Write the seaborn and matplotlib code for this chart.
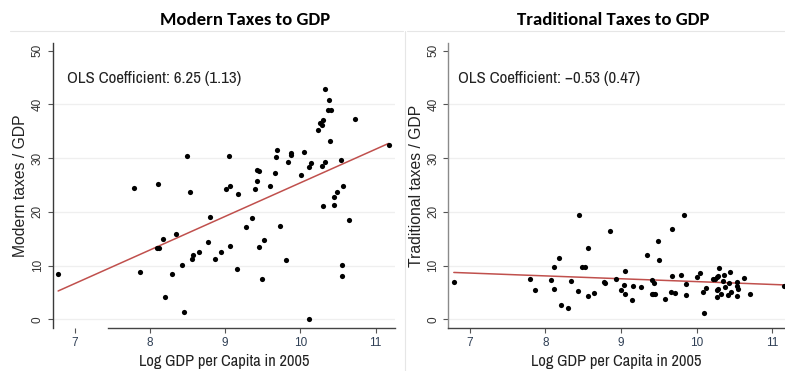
import numpy as np
import pandas as pd
import matplotlib
matplotlib.use("Agg")
import matplotlib.pyplot as plt
from matplotlib.lines import Line2D
import seaborn as sns

# Log GDP per capita (2005) and modern tax revenue as % of GDP
modern_x = [6.78, 7.79, 7.87, 8.11, 8.09, 8.12, 8.17, 8.20, 8.29, 8.35, 8.43, 8.45,
            8.49, 8.53, 8.56, 8.57, 8.65, 8.77, 8.80, 8.86, 8.94, 9.01, 9.05, 9.06,
            9.06, 9.16, 9.17, 9.27, 9.35, 9.40, 9.42, 9.42, 9.45, 9.45, 9.49, 9.52,
            9.60, 9.66, 9.68, 9.69, 9.73, 9.81, 9.84, 9.87, 9.88, 10.01, 10.05, 10.11,
            10.11, 10.14, 10.23, 10.26, 10.28, 10.30, 10.28, 10.30, 10.32, 10.33, 10.36,
            10.38, 10.39, 10.41, 10.44, 10.45, 10.48, 10.54, 10.55, 10.55, 10.57, 10.64,
            10.73, 11.17]
modern_y = [8.4, 24.5, 8.9, 25.2, 13.2, 13.2, 14.9, 4.1, 8.4, 15.8, 10.2, 1.4,
            30.4, 23.6, 11.2, 12.0, 12.5, 14.4, 19.0, 11.2, 12.6, 24.3, 30.3, 24.9,
            13.6, 9.4, 23.4, 17.1, 18.9, 24.3, 25.7, 27.7, 27.6, 13.5, 7.6, 14.8,
            24.8, 27.2, 30.2, 31.5, 17.4, 11.1, 29.3, 30.6, 31.0, 26.9, 31.1, 28.4,
            0.1, 29.0, 35.2, 36.5, 36.1, 37.0, 28.5, 21.0, 29.2, 42.8, 38.9,
            40.8, 33.1, 38.9, 21.2, 22.8, 23.6, 29.6, 10.2, 8.1, 24.9, 18.5,
            37.2, 32.5]

# Log GDP per capita (2005) and traditional tax revenue as % of GDP
trad_x = [6.79, 7.80, 7.87, 8.08, 8.11, 8.12, 8.18, 8.21, 8.30, 8.34, 8.43, 8.45,
          8.49, 8.53, 8.56, 8.57, 8.65, 8.77, 8.79, 8.86, 8.94, 9.00, 9.05, 9.04,
          9.06, 9.15, 9.16, 9.27, 9.35, 9.41, 9.41, 9.44, 9.43, 9.45, 9.49, 9.51,
          9.58, 9.66, 9.67, 9.68, 9.72, 9.80, 9.83, 9.86, 9.86, 10.00, 10.04, 10.09,
          10.10, 10.13, 10.22, 10.25, 10.27, 10.27, 10.27, 10.29, 10.29, 10.30, 10.32,
          10.35, 10.36, 10.38, 10.41, 10.43, 10.44, 10.46, 10.53, 10.54, 10.54, 10.55,
          10.63, 10.71, 11.16]
trad_y = [7.0, 7.6, 5.4, 7.3, 9.7, 5.6, 11.4, 2.7, 2.2, 7.1, 5.2, 19.5,
          9.8, 9.8, 4.3, 13.2, 5.0, 6.9, 6.8, 16.4, 7.6, 5.4, 9.0, 6.4,
          4.7, 3.6, 6.2, 6.1, 12.0, 7.4, 4.8, 6.8, 4.7, 4.7, 14.5, 11.0,
          3.8, 5.1, 16.9, 8.0, 4.9, 8.3, 19.4, 6.6, 4.5, 7.8, 8.6, 5.1,
          1.2, 5.8, 7.5, 7.6, 7.9, 5.5, 4.2, 8.1, 5.6, 9.6, 4.7,
          7.1, 8.2, 6.1, 4.5, 6.8, 8.9, 5.1, 7.0, 4.3, 6.2, 5.7,
          7.7, 4.8, 6.3]

# OLS slope estimates and standard errors
modern_coef, modern_se = 6.25, 1.13
trad_coef, trad_se = -0.53, 0.47

titles = ["Modern Taxes to GDP", "Traditional Taxes to GDP"]
ylabels = ["Modern taxes / GDP", "Traditional taxes / GDP"]
xlabel = "Log GDP per Capita in 2005"
xticks = [7, 8, 9, 10, 11]
yticks = [0, 10, 20, 30, 40, 50]

sns.set_theme(style="white")
plt.rcParams["font.family"] = ["Liberation Sans", "DejaVu Sans"]
NARROW = ["Archivo Narrow", "Liberation Sans", "DejaVu Sans"]
TITLE = ["Carlito", "Lato", "DejaVu Sans"]

fig = plt.figure(figsize=(7.85, 3.71), dpi=100)
W, H = 785, 371


def px_axes(x0, y0, x1, y1):
    return fig.add_axes([x0 / W, 1 - y1 / H, (x1 - x0) / W, (y1 - y0) / H])


panels = [
    dict(ax=px_axes(52.7, 43, 395, 328), x=modern_x, y=modern_y, coef=modern_coef,
         se=modern_se, xlim=(6.708, 11.256), spine_col="#3a3a3a", title_x=245,
         bottom_from=7.44),
    dict(ax=px_axes(448.3, 43, 785, 328), x=trad_x, y=trad_y, coef=trad_coef,
         se=trad_se, xlim=(6.717, 11.17), spine_col="#8a8a8a", title_x=613,
         bottom_from=None),
]

red = "#c0504d"
for i, p in enumerate(panels):
    ax = p["ax"]
    df = pd.DataFrame({"gdp": p["x"], "tax": p["y"]})

    # fitted OLS line with the reported slope, through the sample means
    xs = np.array([df.gdp.min(), df.gdp.max()])
    fit = pd.DataFrame({"gdp": xs,
                        "tax": df.tax.mean() + p["coef"] * (xs - df.gdp.mean())})
    sns.lineplot(data=fit, x="gdp", y="tax", ax=ax, color=red, lw=1.1, zorder=2)
    sns.scatterplot(data=df, x="gdp", y="tax", ax=ax, color="black", s=14,
                    linewidth=0, zorder=3)

    ax.set_xlim(*p["xlim"])
    ax.set_ylim(-1.6, 51.4)
    ax.set_xticks(xticks)
    ax.set_yticks(yticks)
    ax.set_xticklabels([str(t) for t in xticks], fontsize=8.5, color="#2f3f55")
    ax.set_yticklabels([str(t) for t in yticks], fontsize=8.5, color="#333333",
                       rotation=90, va="center")
    ax.tick_params(axis="both", length=3.5, width=0.8, color="#555555", pad=3,
                   left=True, bottom=True)

    ax.grid(axis="y", color="#efefef", lw=0.9)
    ax.get_ygridlines()[-1].set_visible(False)
    ax.set_axisbelow(True)

    for side in ["top", "right"]:
        ax.spines[side].set_visible(False)
    ax.spines["left"].set_color(p["spine_col"])
    ax.spines["left"].set_linewidth(1.0)
    ax.spines["bottom"].set_color("#444444")
    ax.spines["bottom"].set_linewidth(1.0)
    if p["bottom_from"] is not None:
        ax.spines["bottom"].set_bounds(p["bottom_from"], p["xlim"][1])

    ax.set_xlabel(xlabel, fontsize=11.8, family=NARROW, color="#222222")
    ax.xaxis.set_label_coords(0.5, -0.09)
    ax.set_ylabel(ylabels[i], fontsize=11.3, color="#222222")
    ax.yaxis.set_label_coords(-0.073, 0.5)

    sign = "\u2212" if p["coef"] < 0 else ""
    ax.text(0.042 if i == 0 else 0.030, 0.877,
            f"OLS Coefficient: {sign}{abs(p['coef']):.2f} ({p['se']:.2f})",
            transform=ax.transAxes, fontsize=12.2, family=NARROW, color="#222222",
            va="center", ha="left")

    fig.text(p["title_x"] / W, 1 - 20 / H, titles[i], fontsize=13.5,
             family=TITLE, fontweight="bold", ha="center",
             va="center", color="black")

# light frames around each graph region
frame = "#e6e6e6"
fig.add_artist(Line2D([10 / W, 403 / W], [1 - 31 / H] * 2, color=frame, lw=0.8))
fig.add_artist(Line2D([404.5 / W] * 2, [1 - 31 / H, 0], color=frame, lw=0.8))
fig.add_artist(Line2D([407 / W, 1], [1 - 31 / H] * 2, color=frame, lw=0.8))

fig.savefig("out.png", dpi=100)
